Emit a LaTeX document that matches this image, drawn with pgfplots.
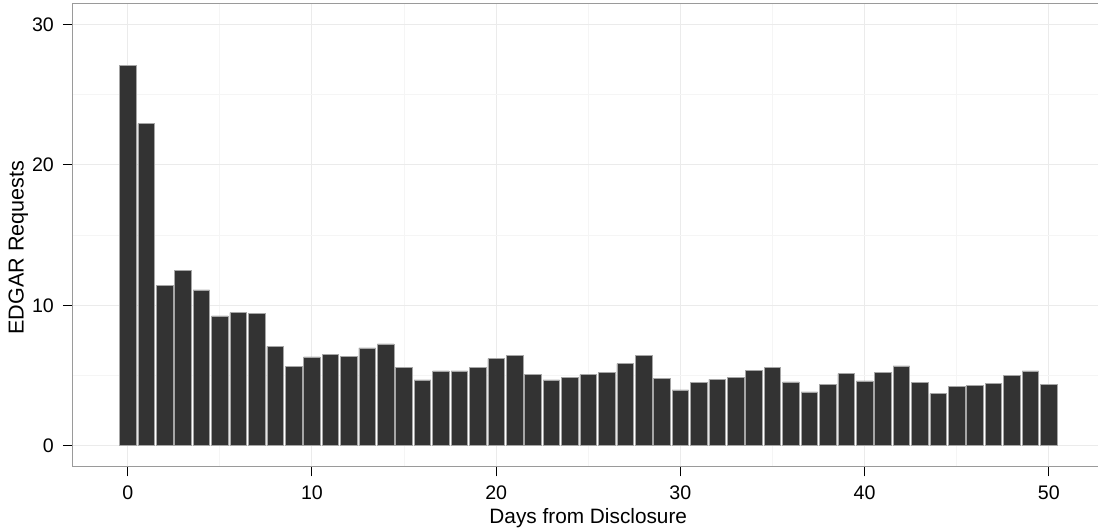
\documentclass[border=0pt]{standalone}
\usepackage{pgfplots}
\pgfplotsset{compat=1.18}
\usepackage{fontspec}
\setmainfont{Liberation Sans}
\definecolor{barfill}{HTML}{333333}
\definecolor{framegray}{HTML}{9A9A9A}
\definecolor{majgrid}{HTML}{EBEBEB}
\definecolor{mingrid}{HTML}{F5F5F5}
\begin{document}
\begin{tikzpicture}
\begin{axis}[
  name=ax,
  scale only axis,
  width=515.75pt, height=231.6pt,
  xmin=-3, xmax=53, ymin=-1.5, ymax=31.5,
  ybar, bar width=0.9,
  xtick={0,10,20,30,40,50},
  ytick={0,10,20,30},
  minor xtick={5,15,25,35,45},
  minor ytick={5,15,25},
  grid=both,
  major grid style={majgrid, line width=0.5pt},
  minor grid style={mingrid, line width=0.5pt},
  tick pos=left,
  tick align=outside,
  major tick length=4.8pt,
  minor tick length=0pt,
  every tick/.style={black, line width=0.5pt},
  axis line style={framegray, line width=0.5pt},
  /pgf/number format/assume math mode=true,
  tick label style={font=\fontsize{9.8}{11}\selectfont, inner sep=0pt},
  xticklabel style={anchor=base},
  xticklabel shift=11.35pt,
  yticklabel style={anchor=east, xshift=-4.3pt},
  every axis x label/.style={at={(rel axis cs:0.5,0)}, anchor=base, yshift=-28.15pt, font=\fontsize{10.4}{12}\selectfont},
  every axis y label/.style={at={(rel axis cs:0,0.473)}, xshift=-27.1pt, rotate=90, anchor=center, font=\fontsize{10.8}{12}\selectfont},
  xlabel={Days from Disclosure},
  ylabel={EDGAR Requests},
]
\addplot[fill=barfill, draw=black!35, line width=0.3pt] coordinates {
(0,27.1) (1,22.95) (2,11.4) (3,12.5) (4,11.1) (5,9.25) (6,9.47) (7,9.4) (8,7.07) (9,5.62)
(10,6.32) (11,6.49) (12,6.37) (13,6.96) (14,7.25) (15,5.6) (16,4.68) (17,5.32) (18,5.32) (19,5.6)
(20,6.2) (21,6.41) (22,5.06) (23,4.68) (24,4.89) (25,5.06) (26,5.2) (27,5.84) (28,6.41) (29,4.78)
(30,3.97) (31,4.49) (32,4.73) (33,4.85) (34,5.37) (35,5.6) (36,4.54) (37,3.83) (38,4.37) (39,5.13)
(40,4.61) (41,5.2) (42,5.68) (43,4.49) (44,3.71) (45,4.23) (46,4.3) (47,4.44) (48,5.01) (49,5.32)
(50,4.37)
};
\end{axis}
\pgfresetboundingbox
\path[use as bounding box] ([xshift=-36.25pt,yshift=-32.15pt]ax.south west) rectangle ([xshift=-3pt,yshift=1.75pt]ax.north east);
\end{tikzpicture}
\end{document}
